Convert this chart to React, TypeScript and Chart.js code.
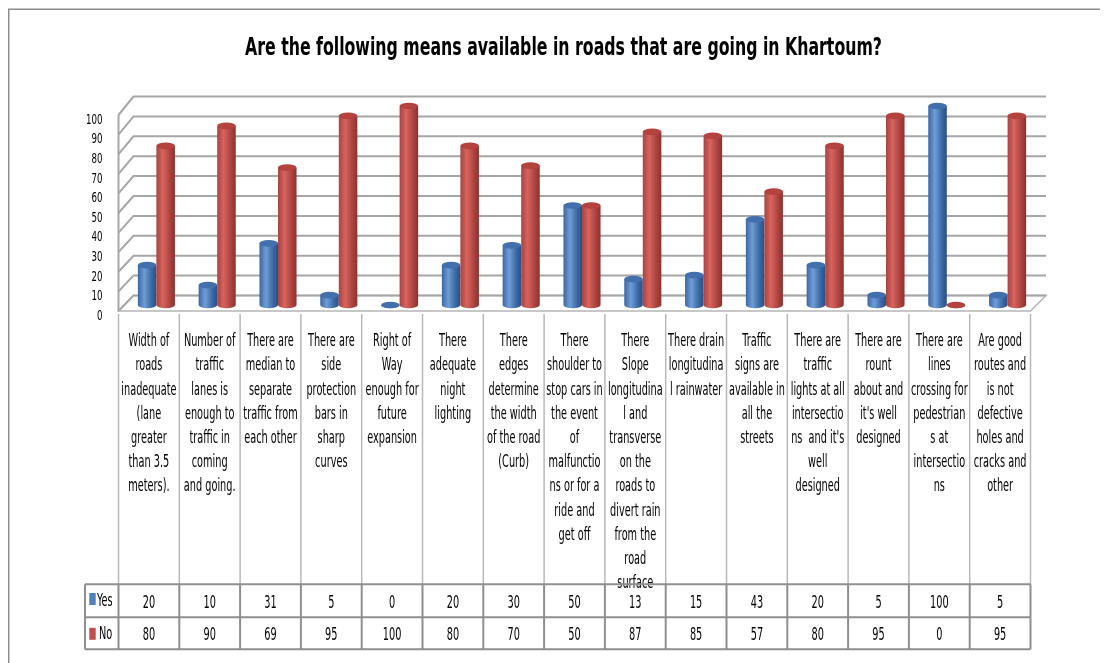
import React, { useEffect, useRef } from 'react';
import { Chart, registerables } from 'chart.js';

Chart.register(...registerables);

const TITLE = 'Are the following means available in roads that are going in Khartoum?';

const categories: string[][] = [
  ['Width of', 'roads', 'inadequate', '(lane', 'greater', 'than 3.5', 'meters).'],
  ['Number of', 'traffic', 'lanes is', 'enough to', 'traffic in', 'coming', 'and going.'],
  ['There are', 'median to', 'separate', 'traffic from', 'each other'],
  ['There are', 'side', 'protection', 'bars in', 'sharp', 'curves'],
  ['Right of', 'Way', 'enough for', 'future', 'expansion'],
  ['There', 'adequate', 'night', 'lighting'],
  ['There', 'edges', 'determine', 'the width', 'of the road', '(Curb)'],
  ['There', 'shoulder to', 'stop cars in', 'the event', 'of', 'malfunctio', 'ns or for a', 'ride and', 'get off'],
  ['There', 'Slope', 'longitudina', 'l and', 'transverse', 'on the', 'roads to', 'divert rain', 'from the', 'road', 'surface'],
  ['There drain', 'longitudina', 'l rainwater'],
  ['Traffic', 'signs are', 'available in', 'all the', 'streets'],
  ['There are', 'traffic', 'lights at all', 'intersectio', "ns  and it's", 'well', 'designed'],
  ['There are', 'rount', 'about and', "it's well", 'designed'],
  ['There are', 'lines', 'crossing for', 'pedestrian', 's at', 'intersectio', 'ns'],
  ['Are good', 'routes and', 'is not', 'defective', 'holes and', 'cracks and', 'other'],
];

const yesValues = [20, 10, 31, 5, 0, 20, 30, 50, 13, 15, 43, 20, 5, 100, 5];
const noValues = [80, 90, 69, 95, 100, 80, 70, 50, 87, 85, 57, 80, 95, 0, 95];

const seriesLabels = ['Yes', 'No'];
const seriesColors = ['#4F81BD', '#C0504D'];

const FONT = '"Liberation Sans Narrow", "Arial Narrow", "DejaVu Sans Condensed", sans-serif';

// shading for the cylinder bodies and caps
const SHADES = [
  { edge: '#3a67a2', light: '#6f9dd6', dark: '#2b4f84', cap: '#4170ac' },
  { edge: '#a9423f', light: '#d8645f', dark: '#8a3330', cap: '#b4423e' },
];

const DEPTH = 7.5; // half depth of the floor, horizontally

// horizontal squeeze so body text keeps a narrow, tall look
let squeeze = 1;
function calibrate(ctx: CanvasRenderingContext2D) {
  ctx.save();
  ctx.font = `13.5px ${FONT}`;
  const w = ctx.measureText('There are').width;
  ctx.restore();
  squeeze = w > 0 ? Math.min(1, 46.7 / w) : 1;
}

function stretchedText(
  ctx: CanvasRenderingContext2D,
  str: string,
  x: number,
  y: number,
  size: number,
  sy: number,
  align: CanvasTextAlign = 'center',
  bold = false,
  sx = squeeze
) {
  ctx.save();
  ctx.translate(x, y);
  ctx.scale(sx, sy);
  ctx.font = `${bold ? 'bold ' : ''}${size}px ${FONT}`;
  ctx.fillStyle = '#000';
  ctx.textAlign = align;
  ctx.textBaseline = 'middle';
  ctx.fillText(str, 0, 0);
  ctx.restore();
}

function cylinder(
  ctx: CanvasRenderingContext2D,
  cx: number,
  top: number,
  base: number,
  w: number,
  shade: { edge: string; light: string; dark: string; cap: string }
) {
  const rx = w / 2;
  const ry = w * 0.18;
  const l = cx - rx;
  const r = cx + rx;
  const g = ctx.createLinearGradient(l, 0, r, 0);
  g.addColorStop(0, shade.edge);
  g.addColorStop(0.35, shade.light);
  g.addColorStop(0.75, shade.edge);
  g.addColorStop(1, shade.dark);
  ctx.beginPath();
  ctx.moveTo(l, top);
  ctx.lineTo(l, base);
  ctx.ellipse(cx, base, rx, ry, 0, Math.PI, 0, true);
  ctx.lineTo(r, top);
  ctx.closePath();
  ctx.fillStyle = g;
  ctx.fill();
  ctx.beginPath();
  ctx.ellipse(cx, top, rx, ry, 0, 0, Math.PI * 2);
  ctx.fillStyle = shade.cap;
  ctx.fill();
}

const framePlugin = {
  id: 'frame3d',
  beforeDatasetsDraw(chart: any) {
    const { ctx, chartArea: a, scales } = chart;
    calibrate(ctx);
    const y = scales.y;
    const back = (v: number) => y.getPixelForValue(v) - 9.5;
    const front = (v: number) => back(v) + 15.5 + (3 * v) / 100;
    const bl = a.left + DEPTH;
    const br = a.right + DEPTH + 0.5;
    const fl = a.left - DEPTH;
    const fr = a.right - DEPTH;

    ctx.save();
    // floor
    ctx.beginPath();
    ctx.moveTo(fl, front(0));
    ctx.lineTo(fr, front(0));
    ctx.lineTo(br, back(0));
    ctx.lineTo(bl, back(0));
    ctx.closePath();
    ctx.fillStyle = '#ffffff';
    ctx.fill();
    ctx.strokeStyle = '#b5b5b5';
    ctx.lineWidth = 1.5;
    ctx.stroke();

    // back wall grid and side wall
    ctx.strokeStyle = '#a6a6a6';
    ctx.lineWidth = 2;
    for (const t of y.ticks) {
      const v = t.value;
      ctx.beginPath();
      ctx.moveTo(fl, front(v));
      ctx.lineTo(bl, back(v));
      ctx.lineTo(br, back(v));
      ctx.stroke();
    }
    ctx.beginPath();
    ctx.moveTo(fl, front(100));
    ctx.lineTo(fl, front(0));
    ctx.stroke();

    // value axis labels
    for (const t of y.ticks) {
      stretchedText(ctx, String(t.value), fl - 16, front(t.value) + 5, 12, 1.2, 'right');
    }
    ctx.restore();
  },
  afterDatasetsDraw(chart: any) {
    const { ctx } = chart;
    const metas = [chart.getDatasetMeta(0), chart.getDatasetMeta(1)];
    ctx.save();
    for (let i = 0; i < categories.length; i++) {
      metas.forEach((meta, d) => {
        const el = meta.data[i];
        const p = el.getProps(['x', 'y', 'base', 'width'], true);
        cylinder(ctx, p.x, p.y, p.base, p.width, SHADES[d]);
      });
    }
    ctx.restore();
  },
  afterDraw(chart: any) {
    const { ctx, chartArea: a, width, height } = chart;
    const n = categories.length;
    const cw = (a.right - a.left) / n;
    const left0 = a.left - DEPTH;
    const right0 = left0 + n * cw;
    const labelTop = 306;
    const tTop = 576.3;
    const tMid = 609.3;
    const tBot = 641.3;
    const legendLeft = 77;

    ctx.save();
    // outer frame
    ctx.strokeStyle = '#8c8c8c';
    ctx.lineWidth = 1.5;
    ctx.beginPath();
    ctx.moveTo(width, 1.2);
    ctx.lineTo(0.7, 1.2);
    ctx.lineTo(0.7, height);
    ctx.stroke();

    // title, squeezed to its line length
    ctx.font = `bold 20.5px ${FONT}`;
    const tw = ctx.measureText(TITLE).width;
    stretchedText(ctx, TITLE, 555.5, 40, 20.5, 1.25, 'center', true, tw > 0 ? 637 / tw : 1);

    // category label columns
    ctx.strokeStyle = '#b8b8b8';
    ctx.lineWidth = 1.5;
    for (let k = 0; k <= n; k++) {
      const x = left0 + k * cw;
      ctx.beginPath();
      ctx.moveTo(x, labelTop);
      ctx.lineTo(x, tTop);
      ctx.stroke();
    }

    for (let i = 0; i < n; i++) {
      const cx = left0 + (i + 0.5) * cw;
      categories[i].forEach((line, j) => {
        stretchedText(ctx, line, cx, 333.7 + j * 24.2, 13.5, 1.3);
      });
    }

    // data table
    ctx.strokeStyle = '#8f8f8f';
    ctx.lineWidth = 2;
    for (const yy of [tTop, tMid, tBot]) {
      ctx.beginPath();
      ctx.moveTo(legendLeft, yy);
      ctx.lineTo(right0, yy);
      ctx.stroke();
    }
    const vx = [legendLeft];
    for (let k = 0; k <= n; k++) vx.push(left0 + k * cw);
    for (const x of vx) {
      ctx.beginPath();
      ctx.moveTo(x, tTop);
      ctx.lineTo(x, tBot);
      ctx.stroke();
    }

    const rows = [yesValues, noValues];
    const rowY = [595, 627.8];
    rows.forEach((vals, r) => {
      vals.forEach((v, i) => {
        stretchedText(ctx, String(v), left0 + (i + 0.5) * cw, rowY[r], 13.5, 1.3);
      });
      ctx.fillStyle = seriesColors[r];
      ctx.fillRect(81.3, rowY[r] - 10 + (r === 0 ? 0 : 2), 6.4, 12);
      stretchedText(ctx, seriesLabels[r], r === 0 ? 89 : 91, rowY[r] - 1.5, 13.5, 1.3, 'left');
    });
    ctx.restore();
  },
};

export default function App() {
  const canvasRef = useRef<HTMLCanvasElement | null>(null);

  useEffect(() => {
    document.body.style.overflow = 'hidden';
    const canvas = canvasRef.current;
    if (!canvas) return;
    const chart = new Chart(canvas, {
      type: 'bar',
      data: {
        labels: categories.map((c) => c.join(' ')),
        datasets: [
          {
            label: seriesLabels[0],
            data: yesValues,
            backgroundColor: 'rgba(0,0,0,0)',
            borderWidth: 0,
            barPercentage: 1,
            categoryPercentage: 0.61,
          },
          {
            label: seriesLabels[1],
            data: noValues,
            backgroundColor: 'rgba(0,0,0,0)',
            borderWidth: 0,
            barPercentage: 1,
            categoryPercentage: 0.61,
          },
        ],
      },
      options: {
        responsive: false,
        animation: false,
        layout: { padding: { left: 118, right: 70, top: 98, bottom: 358 } },
        plugins: {
          legend: { display: false },
          tooltip: { enabled: false },
          title: { display: false },
        },
        scales: {
          x: { display: false, offset: true },
          y: { display: false, min: 0, max: 100, ticks: { stepSize: 10 } },
        },
      },
      plugins: [framePlugin],
    });
    return () => chart.destroy();
  }, []);

  return (
    <div style={{ width: 1100, height: 655 }}>
      <canvas ref={canvasRef} width={1100} height={655} style={{ display: 'block' }} />
    </div>
  );
}
